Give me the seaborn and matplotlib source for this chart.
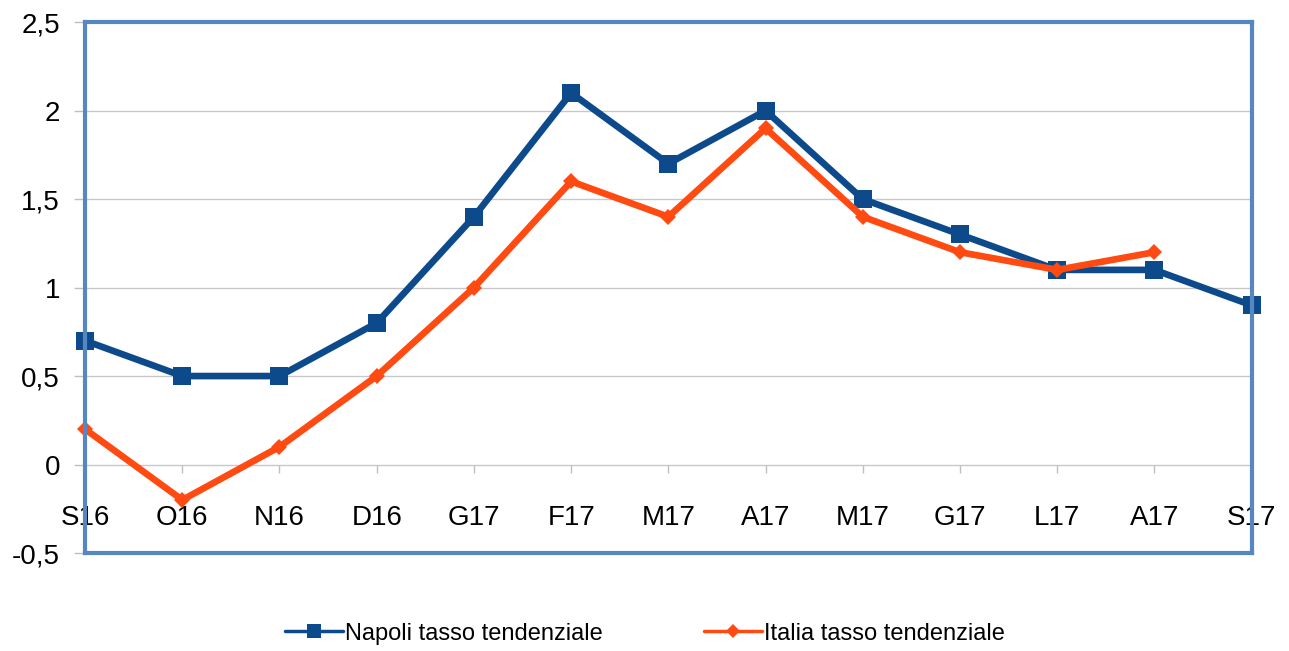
import pandas as pd
import matplotlib.pyplot as plt
import seaborn as sns
from matplotlib.ticker import FuncFormatter

months = ["S16", "O16", "N16", "D16", "G17", "F17", "M17", "A17", "M17", "G17", "L17", "A17", "S17"]
napoli = [0.7, 0.5, 0.5, 0.8, 1.4, 2.1, 1.7, 2.0, 1.5, 1.3, 1.1, 1.1, 0.9]
italia = [0.2, -0.2, 0.1, 0.5, 1.0, 1.6, 1.4, 1.9, 1.4, 1.2, 1.1, 1.2, None]

df = pd.DataFrame({"pos": range(len(months)), "napoli": napoli, "italia": italia})

sns.set_style("white")
plt.rcParams['font.family'] = ['Liberation Sans', 'DejaVu Sans']
plt.rcParams['text.color'] = 'black'
plt.rcParams['xtick.labelcolor'] = 'black'
plt.rcParams['ytick.labelcolor'] = 'black'

fig = plt.figure(figsize=(12.89, 6.51), dpi=100)
ax = fig.add_axes([0.066, 0.1505, 0.905, 0.8155])

# series
sns.lineplot(data=df, x="pos", y="napoli", ax=ax, color="#0D4A8C", linewidth=4.8,
             marker="s", markersize=12.5, markeredgewidth=0, label="Napoli tasso tendenziale",
             zorder=3, clip_on=False)
sns.lineplot(data=df.dropna(), x="pos", y="italia", ax=ax, color="#FF4A12", linewidth=4.8,
             marker="D", markersize=8.5, markeredgewidth=0, label="Italia tasso tendenziale",
             zorder=4, clip_on=False)

ax.set_xlim(0, len(months) - 1)
ax.set_ylim(-0.5, 2.5)
ax.set_xlabel("")
ax.set_ylabel("")

# y axis with comma decimals
ax.set_yticks([-0.5, 0, 0.5, 1, 1.5, 2, 2.5])
ax.yaxis.set_major_formatter(FuncFormatter(lambda v, p: f"{v:g}".replace(".", ",")))
ax.tick_params(axis="y", left=True, length=8, width=1, color="#BFBFBF", pad=10,
               labelsize=20, labelcolor="black")
ax.grid(axis="y", color="#C8C8C8", linewidth=1)
ax.set_axisbelow(True)

# x tick labels hang from the zero line
ax.set_xticks([])
sec = ax.secondary_xaxis(0, transform=ax.transData)
sec.set_xticks(range(len(months)))
sec.set_xticklabels(months)
sec.tick_params(axis="x", length=6, width=1, color="#BFBFBF", pad=23,
                labelsize=20, labelcolor="black")
sec.spines["bottom"].set_visible(False)

for s in ax.spines.values():
    s.set_color("#5787C3")
    s.set_linewidth(3)
    s.set_zorder(10)

leg = ax.legend(loc="center", bbox_to_anchor=(0.48, -0.152), ncol=2, frameon=False,
                fontsize=17, columnspacing=4.3, handlelength=2.45, handletextpad=0.1,
                labelcolor="black")
for h in leg.legend_handles:
    h.set_linewidth(2.5)
    h.set_markersize(h.get_markersize() * 0.8)

fig.savefig("out.png", dpi=100)
